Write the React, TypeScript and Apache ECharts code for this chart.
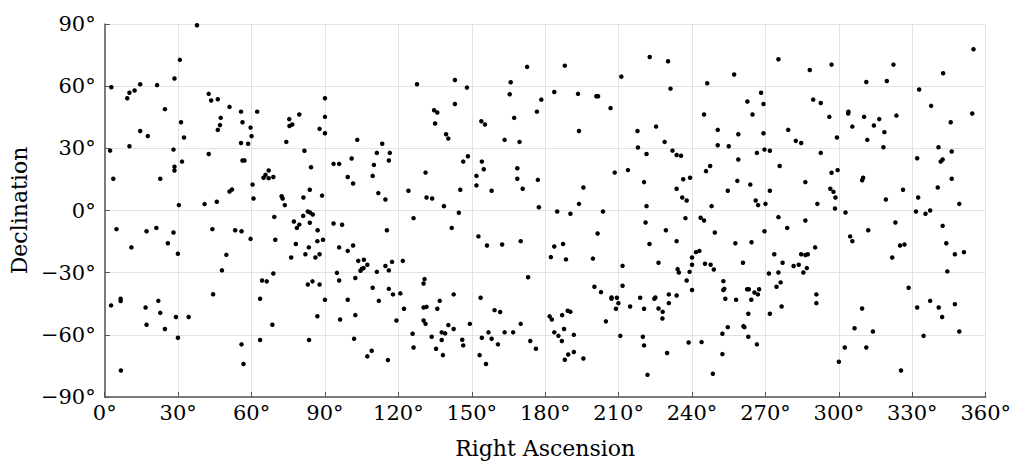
import React, { useEffect, useRef } from "react";
import * as echarts from "echarts";

// [Right Ascension (deg), Declination (deg)], grouped by RA band
const stars0to60: number[][] = [
  [37.7,89.4],[30.7,72.7],[28.5,63.7],[2.7,59.5],[14.5,60.9],[21.4,60.5],[12.2,57.9],[10.1,56.8],[9.2,54.2],[24.6,48.9],
  [42.5,56.3],[43.5,53.1],[46.2,53.7],[51.0,50.0],[55.7,47.7],[56.3,42.6],[47.4,44.7],[47.1,41.2],[46.2,38.9],[31.2,42.6],
  [32.4,35.2],[14.5,38.4],[17.6,35.9],[10.1,31.0],[2.2,28.9],[28.1,29.4],[42.5,27.3],[55.7,32.6],[56.3,24.1],[57.1,24.1],
  [31.6,23.6],[28.5,21.1],[28.5,19.3],[3.5,15.3],[22.7,15.3],[52.0,10.1],[51.0,9.2],[30.3,2.6],[40.8,3.1],[45.8,4.2],
  [4.8,-9.0],[17.1,-10.0],[21.1,-8.4],[28.1,-10.6],[44.0,-9.0],[53.3,-9.5],[55.9,-10.0],[25.8,-15.8],[10.9,-17.8],[29.9,-20.9],
  [49.7,-21.4],[47.9,-28.9],[44.3,-40.4],[6.5,-42.6],[6.5,-43.7],[2.6,-45.8],[21.9,-43.6],[16.7,-46.8],[22.7,-49.4],[29.1,-51.4],
  [34.3,-51.4],[17.1,-55.1],[24.6,-57.2],[29.9,-61.4],[55.9,-64.6],[56.7,-74.1],[6.6,-77.2],
];

const stars60to120: number[][] = [
  [90.0,54.2],[62.3,47.7],[59.6,40.0],[60.0,35.9],[58.6,32.2],[75.4,44.1],[75.5,40.8],[76.6,41.5],[79.5,46.3],[74.2,33.1],
  [87.8,39.4],[90.0,45.2],[90.0,37.3],[81.6,28.8],[103.2,34.1],[113.4,32.2],[111.2,27.8],[116.5,27.8],[116.1,24.1],[93.5,22.5],
  [95.8,22.5],[100.9,25.1],[110.0,22.0],[109.5,16.7],[99.3,16.2],[101.5,13.0],[84.3,20.9],[67.0,19.3],[65.7,17.2],[64.9,15.8],
  [67.0,15.6],[68.9,16.2],[60.4,12.5],[60.8,5.8],[72.3,6.9],[72.7,5.8],[73.6,2.6],[83.8,10.0],[81.2,6.3],[88.8,7.2],
  [111.8,8.4],[114.7,5.3],[69.3,-3.1],[83.0,-0.5],[83.9,-1.0],[85.0,-1.9],[81.1,-2.6],[77.3,-5.3],[79.5,-6.8],[78.5,-8.4],
  [83.8,-5.9],[93.5,-6.3],[97.0,-6.9],[115.3,-9.5],[59.6,-13.7],[69.7,-14.1],[87.0,-9.5],[86.9,-14.8],[89.2,-14.1],[78.1,-16.2],
  [83.4,-17.8],[82.0,-21.1],[76.2,-22.7],[86.1,-22.7],[87.8,-21.1],[95.8,-17.8],[99.3,-19.5],[101.5,-16.9],[103.6,-24.3],[105.9,-23.8],
  [107.3,-26.2],[104.5,-29.1],[105.1,-28.1],[105.8,-27.8],[111.2,-29.6],[114.7,-26.8],[116.1,-28.9],[117.4,-24.8],[94.9,-30.1],[95.8,-33.8],
  [102.4,-32.6],[68.9,-30.4],[64.3,-33.8],[66.2,-34.2],[83.0,-35.7],[84.9,-34.2],[87.8,-35.7],[63.5,-42.6],[90.0,-43.1],[99.3,-43.1],
  [109.5,-37.3],[112.0,-43.6],[116.1,-37.8],[117.8,-40.5],[86.9,-51.0],[68.5,-55.1],[96.2,-52.6],[102.4,-50.5],[119.2,-53.1],[63.5,-62.5],
  [83.5,-62.5],[101.9,-61.9],[107.3,-70.4],[109.1,-67.7],[115.7,-72.2],
];

const stars120to180: number[][] = [
  [172.6,69.3],[127.6,60.9],[143.1,63.0],[148.0,59.3],[165.9,61.9],[165.5,56.1],[178.4,53.5],[176.6,47.7],[143.1,51.4],[134.6,48.4],
  [135.9,47.3],[135.0,42.0],[139.5,36.8],[140.4,34.7],[153.9,43.1],[155.4,41.5],[167.3,44.7],[163.4,34.1],[169.5,33.1],[148.4,26.2],
  [146.5,23.6],[154.1,23.6],[154.9,19.9],[151.9,16.7],[151.9,12.1],[158.1,9.5],[145.3,10.0],[131.1,18.3],[124.1,9.5],[131.5,6.3],
  [133.8,5.8],[138.6,2.1],[144.7,-1.1],[168.6,20.4],[168.6,15.3],[170.8,10.5],[177.0,14.8],[177.4,1.6],[126.2,-3.7],[141.8,-8.4],
  [152.7,-12.5],[156.2,-16.9],[162.4,-16.4],[170.0,-14.8],[121.8,-24.3],[173.0,-32.2],[120.8,-40.0],[130.3,-35.2],[130.7,-33.1],[142.6,-40.5],
  [153.6,-42.1],[122.3,-47.4],[130.3,-46.8],[131.5,-46.5],[136.9,-43.6],[135.9,-47.4],[130.3,-53.1],[131.1,-54.7],[140.4,-55.3],[142.6,-57.2],
  [149.2,-54.7],[159.3,-48.1],[161.6,-49.0],[170.0,-54.7],[125.8,-59.5],[126.2,-66.1],[133.6,-60.9],[137.7,-58.8],[139.1,-59.3],[137.7,-62.5],
  [135.4,-66.7],[138.2,-69.8],[146.1,-62.4],[146.5,-65.1],[156.8,-58.8],[154.1,-61.4],[158.1,-61.9],[160.7,-64.6],[163.4,-58.8],[166.9,-58.8],
  [153.2,-69.8],[155.8,-74.1],[173.9,-63.0],[176.2,-66.7],
];

const stars180to240: number[][] = [
  [188.0,69.9],[222.7,74.1],[230.2,72.0],[211.1,64.6],[183.7,57.2],[193.4,56.3],[200.9,55.1],[201.6,55.1],[231.2,58.8],[206.7,49.4],
  [193.8,38.4],[217.7,38.4],[225.3,40.5],[228.8,33.1],[217.9,30.4],[221.4,27.3],[232.0,28.9],[233.7,26.8],[235.5,26.4],[208.4,18.3],
  [213.8,19.5],[220.4,13.7],[236.4,15.1],[239.2,15.8],[233.7,10.5],[236.0,6.3],[237.8,4.8],[195.6,11.1],[193.8,3.2],[221.4,2.1],
  [184.9,-0.5],[190.3,-1.6],[203.6,-0.5],[221.0,-5.8],[237.3,-3.7],[201.4,-11.1],[229.3,-9.5],[183.7,-17.4],[187.3,-16.2],[182.3,-22.5],
  [188.5,-23.6],[199.5,-23.2],[222.6,-16.2],[233.7,-14.8],[226.3,-25.2],[211.6,-26.7],[240.0,-22.7],[240.0,-26.2],[234.1,-28.3],[234.6,-29.9],
  [239.0,-29.6],[237.8,-33.8],[240.0,-38.4],[200.1,-36.8],[202.8,-39.4],[211.6,-36.3],[207.1,-42.0],[207.1,-42.6],[209.3,-42.1],[209.9,-44.7],
  [208.9,-47.4],[214.7,-46.3],[218.8,-42.1],[224.6,-42.6],[225.0,-42.0],[220.4,-47.4],[226.3,-47.3],[228.0,-48.9],[227.9,-52.1],[230.5,-40.5],
  [230.5,-44.7],[233.7,-41.0],[204.8,-53.5],[181.8,-51.1],[182.7,-52.6],[186.9,-50.5],[189.2,-48.4],[190.3,-48.9],[183.7,-58.8],[185.4,-60.5],
  [187.7,-57.2],[186.8,-63.0],[191.7,-60.0],[188.0,-72.0],[189.4,-69.5],[191.7,-68.3],[195.6,-71.4],[210.7,-60.5],[219.9,-60.9],[220.4,-65.1],
  [229.8,-68.8],[221.8,-79.3],[238.6,-63.7],
];

const stars240to300: number[][] = [
  [275.3,73.0],[288.1,67.8],[297.0,70.4],[257.2,65.6],[246.2,61.4],[268.2,56.8],[262.6,52.6],[269.2,51.4],[264.7,46.3],[289.5,53.5],
  [292.6,51.9],[296.1,45.2],[244.9,46.3],[250.5,38.9],[258.9,36.8],[269.2,37.3],[279.3,38.9],[282.4,33.6],[284.6,32.6],[299.2,35.2],
  [250.5,31.5],[255.0,31.0],[266.5,27.8],[269.6,29.4],[271.8,28.8],[292.6,27.8],[258.9,24.6],[247.4,21.5],[245.7,19.0],[275.8,21.5],
  [297.0,18.2],[299.5,19.5],[258.5,14.3],[263.8,12.5],[286.3,13.7],[254.6,9.5],[271.8,9.5],[296.5,10.5],[297.8,9.0],[298.6,6.3],
  [266.0,4.8],[267.0,2.6],[270.0,3.2],[291.2,3.2],[248.0,2.1],[298.4,1.0],[243.5,-3.5],[244.9,-4.8],[275.3,-3.2],[286.3,-4.8],
  [278.9,-8.4],[249.3,-10.6],[269.6,-10.0],[257.7,-15.8],[264.3,-15.3],[241.6,-20.1],[243.0,-19.5],[245.3,-25.7],[247.6,-26.2],[248.9,-28.5],
  [260.8,-25.2],[273.6,-21.1],[277.0,-25.2],[281.5,-26.8],[283.6,-26.2],[284.6,-21.1],[286.3,-21.5],[287.3,-21.1],[290.3,-17.8],[285.5,-29.9],
  [286.9,-27.8],[271.4,-30.4],[275.3,-29.9],[276.2,-34.7],[274.5,-36.8],[252.8,-34.1],[252.8,-38.4],[253.2,-37.8],[253.6,-42.6],[258.0,-43.1],
  [262.5,-38.0],[263.2,-38.0],[265.5,-39.6],[266.9,-40.5],[267.4,-38.0],[264.2,-43.1],[263.0,-49.8],[271.8,-49.8],[276.6,-46.3],[290.8,-40.5],
  [290.8,-44.7],[254.6,-56.3],[261.0,-55.8],[261.4,-56.3],[252.4,-59.5],[263.0,-60.9],[266.5,-64.6],[243.9,-63.5],[252.4,-69.3],[248.5,-78.8],
  [300.0,-73.0],
];

const stars300to360: number[][] = [
  [355.0,77.8],[342.6,66.2],[322.3,70.4],[311.2,62.0],[319.6,62.5],[332.8,58.4],[337.7,50.5],[354.5,46.8],[345.7,42.6],[303.9,47.7],
  [303.8,46.8],[310.3,45.2],[316.5,44.1],[323.5,45.8],[305.5,40.5],[314.3,41.0],[318.6,37.8],[311.6,34.1],[318.2,30.5],[332.0,25.2],
  [340.7,30.5],[346.1,28.5],[341.6,23.6],[342.4,24.6],[346.1,15.3],[309.9,15.8],[309.5,14.6],[326.2,10.0],[340.4,11.1],[319.2,5.3],
  [332.4,6.3],[349.2,3.2],[302.7,-1.0],[331.5,-0.5],[335.4,-1.6],[337.3,0.0],[323.1,-5.8],[342.4,-7.4],[312.0,-9.5],[304.6,-12.5],
  [305.5,-14.8],[325.0,-16.9],[326.8,-16.4],[343.9,-15.8],[321.8,-22.7],[347.4,-21.1],[351.1,-20.1],[344.3,-29.4],[328.5,-37.3],[309.5,-47.3],
  [332.0,-46.8],[337.3,-43.6],[340.8,-46.8],[342.2,-51.4],[347.4,-45.2],[306.4,-56.8],[313.9,-58.4],[349.2,-58.4],[334.6,-60.5],[302.4,-66.1],
  [311.2,-66.1],[325.4,-77.2],
];

const xTicks = [0, 30, 60, 90, 120, 150, 180, 210, 240, 270, 300, 330, 360];
const yTicks = [-90, -60, -30, 0, 30, 60, 90];
const xTitle = "Right Ascension";
const yTitle = "Declination";

const FONT = "'DejaVu Serif', 'Liberation Serif', serif";

function degLabel(v: number): string {
  return (v < 0 ? "\u2212" + Math.abs(v) : String(v)) + "\u00b0";
}

export default function App() {
  const ref = useRef<HTMLDivElement>(null);
  useEffect(() => {
    if (!ref.current) return;
    const chart = echarts.init(ref.current, undefined, { renderer: "svg" });
    const data = [
      ...stars0to60,
      ...stars60to120,
      ...stars120to180,
      ...stars180to240,
      ...stars240to300,
      ...stars300to360,
    ];
    const axisColor = "#555555";
    chart.setOption({
      animation: false,
      backgroundColor: "#ffffff",
      grid: { left: 102, right: 24, top: 24, bottom: 66, containLabel: false },
      xAxis: {
        type: "value",
        min: xTicks[0],
        max: xTicks[xTicks.length - 1],
        interval: 30,
        name: xTitle,
        nameLocation: "middle",
        nameGap: 40,
        nameTextStyle: { fontFamily: FONT, fontSize: 22, color: "#000" },
        axisLine: { show: true, onZero: false, lineStyle: { color: axisColor, width: 1.5 } },
        axisTick: { show: true, inside: true, length: 5, lineStyle: { color: axisColor, width: 1 } },
        axisLabel: {
          formatter: (v: number) => degLabel(v),
          fontFamily: FONT,
          fontSize: 21,
          color: "#000",
          margin: 5,
        },
        splitLine: { show: true, lineStyle: { color: "#e2e2e2", width: 1 } },
      },
      yAxis: {
        type: "value",
        min: yTicks[0],
        max: yTicks[yTicks.length - 1],
        interval: 30,
        name: yTitle,
        nameLocation: "middle",
        nameGap: 72,
        nameRotate: 90,
        nameTextStyle: { fontFamily: FONT, fontSize: 22, color: "#000" },
        axisLine: { show: true, onZero: false, lineStyle: { color: axisColor, width: 1.5 } },
        axisTick: { show: true, inside: true, length: 5, lineStyle: { color: axisColor, width: 1 } },
        axisLabel: {
          formatter: (v: number) => degLabel(v),
          fontFamily: FONT,
          fontSize: 21,
          color: "#000",
          margin: 9,
        },
        splitLine: { show: true, lineStyle: { color: "#e2e2e2", width: 1 } },
      },
      series: [
        {
          type: "scatter",
          data,
          symbol: "circle",
          symbolSize: 4.5,
          itemStyle: { color: "#000000", opacity: 1 },
        },
      ],
    });
    return () => chart.dispose();
  }, []);
  return (
    <div
      ref={ref}
      style={{ position: "absolute", left: 0, top: 0, width: 1014, height: 464 }}
    />
  );
}
